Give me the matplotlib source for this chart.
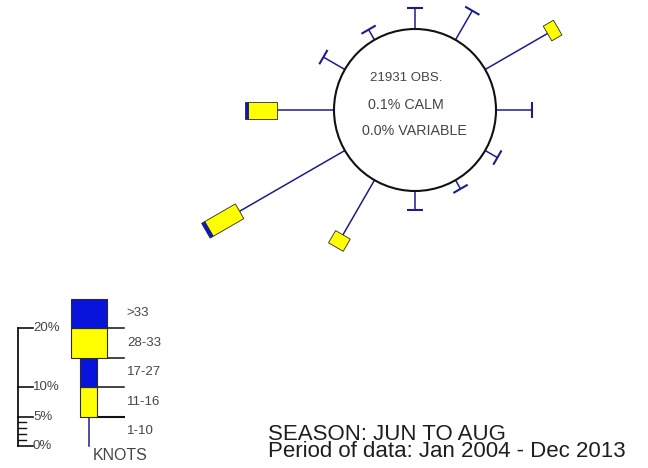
import numpy as np
import matplotlib
matplotlib.use("Agg")
import matplotlib.pyplot as plt
from matplotlib.patches import Polygon, Circle, Rectangle

plt.rcParams['font.family'] = ['Liberation Sans', 'DejaVu Sans']

# ---- data -----------------------------------------------------------------
directions = [0, 30, 60, 90, 120, 150, 180, 210, 240, 270, 300, 330]   # degrees from north
speed_classes = ["1-10", "11-16", "17-27", "28-33", ">33"]
# percent frequency per direction, one list per speed class
freq_1_10  = [3.6, 5.7, 12.2, 6.1, 2.4, 1.7, 3.2, 10.7, 20.6, 9.7, 4.2, 2.0]
freq_11_16 = [0.0, 0.0, 2.0, 0.0, 0.0, 0.0, 0.0, 2.4, 6.0, 4.8, 0.0, 0.0]
freq_17_27 = [0.0, 0.0, 0.0, 0.0, 0.0, 0.0, 0.0, 0.0, 0.6, 0.6, 0.0, 0.0]
freq_28_33 = [0.0] * 12
freq_gt33  = [0.0] * 12

n_obs = 21931
calm_pct = 0.1
variable_pct = 0.0
legend_band = 5.0                       # each key segment stands for 5 %
scale_ticks = [0, 5, 10, 20]
scale_minor = [1, 2, 3, 4]
season_text = "SEASON: JUN TO AUG"
period_text = "Period of data: Jan 2004 - Dec 2013"

# ---- styling --------------------------------------------------------------
W, H, DPI = 648, 468, 100
PX = 5.9                                # pixels per percent
LINE_C = "#1c1c8c"
YELLOW = "#ffff00"
BLUE = "#0814dc"
EDGE = "#2a2a2a"
TEXT_GRAY = "#454545"
class_colors = [LINE_C, YELLOW, BLUE, YELLOW, BLUE]
narrow_w, wide_w = 17 / PX, 36 / PX     # box widths in percent units
class_widths = [0, narrow_w, narrow_w, wide_w, wide_w]

fig = plt.figure(figsize=(W / DPI, H / DPI), dpi=DPI)

# ---- rose -----------------------------------------------------------------
cx, cy = 415, 110                       # rose centre, pixels
ax = fig.add_axes([0, 0, 1, 1])
ax.set_xlim(-cx / PX, (W - cx) / PX)
ax.set_ylim(-(H - cy) / PX, cy / PX)
ax.axis("off")

R = 81 / PX                              # inner circle radius (percent units)
ax.add_patch(Circle((0, 0), R, fill=False, ec="#111111", lw=1.5, zorder=3))

table = np.array([freq_1_10, freq_11_16, freq_17_27, freq_28_33, freq_gt33]).T
cap_w = 16.5 / PX

for ang, vals in zip(directions, table):
    t = np.deg2rad(ang)
    u = np.array([np.sin(t), np.cos(t)])      # outward direction
    p = np.array([u[1], -u[0]])               # perpendicular
    r0 = R
    r1 = R + vals[0]
    ax.plot(*np.c_[u * r0, u * r1], color=LINE_C, lw=1.1, solid_capstyle="butt", zorder=2)
    r = r1
    for k in range(1, len(vals)):
        v = vals[k]
        if v <= 0:
            continue
        hw = class_widths[k] / 2
        pts = [u * r + p * hw, u * (r + v) + p * hw, u * (r + v) - p * hw, u * r - p * hw]
        ax.add_patch(Polygon(pts, closed=True, fc=class_colors[k], ec=EDGE, lw=0.6, zorder=4))
        r += v
    if np.all(vals[1:] <= 0):
        e = u * r1
        ax.plot(*np.c_[e + p * cap_w / 2, e - p * cap_w / 2], color=LINE_C, lw=1.5,
                solid_capstyle="butt", zorder=2)

center_lines = [f"{n_obs} OBS.", f"{calm_pct:.1f}% CALM", f"{variable_pct:.1f}% VARIABLE"]
center_pos = [(-45 / PX, 32 / PX), (-47 / PX, 5 / PX), (-53 / PX, -21 / PX)]
center_size = [9.5, 10.3, 10.3]
for s, (x, y), fs in zip(center_lines, center_pos, center_size):
    ax.text(x, y, s, fontsize=fs, color=TEXT_GRAY, ha="left", va="center")

# ---- speed key ------------------------------------------------------------
lx0, ly0 = 88.5, 446                    # key base point, pixels
lg = fig.add_axes([0, 0, 200 / W, 188 / H])
lg.set_xlim(-lx0 / PX, (200 - lx0) / PX)
lg.set_ylim(-(H - ly0) / PX, (ly0 - 280) / PX)
lg.axis("off")

bottom = 0.0
for k, name in enumerate(speed_classes):
    top = bottom + legend_band
    if k == 0:
        lg.plot([0, 0], [bottom, top], color=LINE_C, lw=1.1)
    else:
        w = class_widths[k]
        lg.add_patch(Rectangle((-w / 2, bottom), w, legend_band, fc=class_colors[k],
                               ec=EDGE, lw=0.8, zorder=3))
    lg.text(6.5, (bottom + top) / 2, name, fontsize=9.5, color=TEXT_GRAY,
            ha="left", va="center")
    if k < len(speed_classes) - 1:
        w_next = class_widths[k + 1]
        lg.plot([w_next / 2, 6.0], [top, top], color="#111111",
                lw=1.5 if k == 0 else 1.1, zorder=2)
    bottom = top

lg.text(5.3, -1.6, "KNOTS", fontsize=11.5, color=TEXT_GRAY, ha="center", va="center")

# percentage scale bar
sx = (18 - lx0) / PX
lg.plot([sx, sx], [0, max(scale_ticks)], color="#111111", lw=1.3)
for t in scale_ticks:
    lg.plot([sx, sx + 15 / PX], [t, t], color="#111111", lw=1.2)
    lg.text(sx + 15 / PX, t, f"{t}%", fontsize=9.5, color=TEXT_GRAY, ha="left", va="center")
for t in scale_minor:
    lg.plot([sx, sx + 8 / PX], [t, t], color="#111111", lw=1.0)

# ---- footer (two tightly spaced lines; anchored on the lower baseline) ----
fig.text(268 / W, 1 - 457 / H, season_text + "\n" + period_text, fontsize=16,
         color="#1e1e1e", ha="left", va="baseline", linespacing=0.72)

fig.savefig("out.png", dpi=DPI, facecolor="white")
